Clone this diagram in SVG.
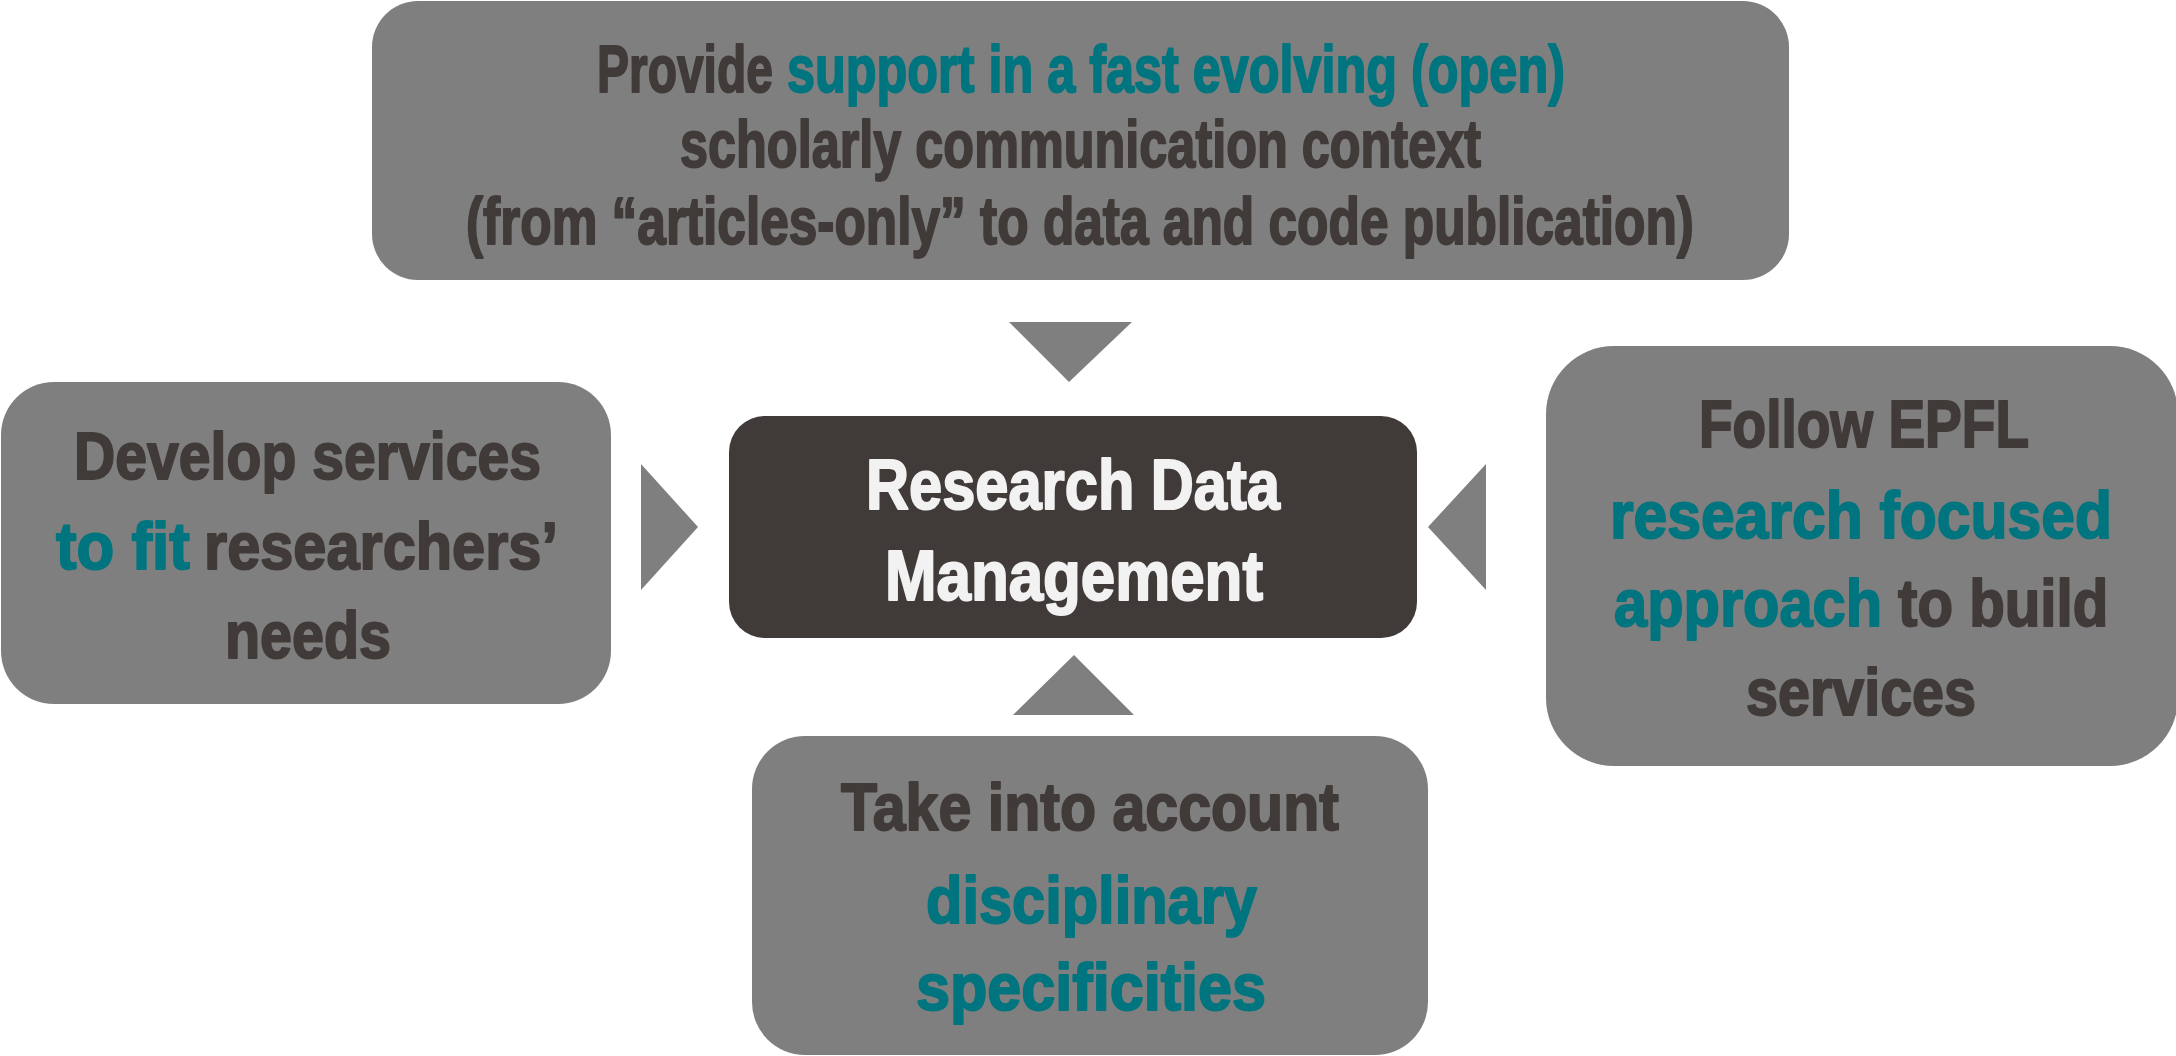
<svg xmlns="http://www.w3.org/2000/svg" width="2176" height="1056" viewBox="0 0 2176 1056">
<style>
.box{fill:#7f7f7f}
.core{fill:#403b39}
.arr{fill:#7f7f7f}
.t{font-family:"Liberation Sans",Arial,sans-serif;font-weight:bold;font-size:67px;fill:#403b39;stroke:#403b39;stroke-width:2px;stroke-linejoin:round}
.c{fill:#00757f;stroke:#00757f}
.w{fill:#f2f2f2;stroke:#f2f2f2;font-size:70px}
</style>
<rect width="2176" height="1056" fill="#ffffff"/>
<g id="connectors">
<polygon class="arr" points="1009,322 1132,322 1069,382"/>
<polygon class="arr" points="641,464 641,590 698,527"/>
<polygon class="arr" points="1486,464 1486,590 1428,527"/>
<polygon class="arr" points="1013,715 1134,715 1074,655"/>
</g>
<g id="node-top">
<rect class="box" x="372" y="1" width="1417" height="279" rx="46"/>
<text class="t" transform="translate(597,92) scale(0.715,1)" x="0" y="0" textLength="246" lengthAdjust="spacingAndGlyphs">Provide</text>
<text class="t c" transform="translate(787,92) scale(0.715,1)" x="0" y="0" textLength="1088" lengthAdjust="spacingAndGlyphs">support in a fast evolving (open)</text>
<text class="t" x="680" y="167" textLength="801" lengthAdjust="spacingAndGlyphs">scholarly communication context</text>
<text class="t" x="466" y="244" textLength="1228" lengthAdjust="spacingAndGlyphs">(from “articles-only” to data and code publication)</text>
</g>
<g id="node-left">
<rect class="box" x="1" y="382" width="610" height="322" rx="53"/>
<text class="t" x="74" y="479" textLength="467" lengthAdjust="spacingAndGlyphs">Develop services</text>
<text class="t c" transform="translate(56,569) scale(0.715,1)" x="0" y="0" textLength="187" lengthAdjust="spacingAndGlyphs">to fit</text>
<text class="t" transform="translate(204,569) scale(0.715,1)" x="0" y="0" textLength="495" lengthAdjust="spacingAndGlyphs">researchers’</text>
<text class="t" x="225" y="658" textLength="166" lengthAdjust="spacingAndGlyphs">needs</text>
</g>
<g id="node-center">
<rect class="core" x="729" y="416" width="688" height="222" rx="36"/>
<text class="t w" x="866" y="509" textLength="414" lengthAdjust="spacingAndGlyphs">Research Data</text>
<text class="t w" x="885" y="600" textLength="378" lengthAdjust="spacingAndGlyphs">Management</text>
</g>
<g id="node-right">
<rect class="box" x="1546" y="346" width="632" height="420" rx="68"/>
<text class="t" x="1699" y="447" textLength="330" lengthAdjust="spacingAndGlyphs">Follow EPFL</text>
<text class="t c" x="1610" y="538" textLength="502" lengthAdjust="spacingAndGlyphs">research  focused</text>
<text class="t c" transform="translate(1614,626) scale(0.715,1)" x="0" y="0" textLength="375" lengthAdjust="spacingAndGlyphs">approach</text>
<text class="t" transform="translate(1898,626) scale(0.715,1)" x="0" y="0" textLength="294" lengthAdjust="spacingAndGlyphs">to build</text>
<text class="t" x="1746" y="715" textLength="230" lengthAdjust="spacingAndGlyphs">services</text>
</g>
<g id="node-bottom">
<rect class="box" x="752" y="736" width="676" height="319" rx="53"/>
<text class="t" x="841" y="830" textLength="498" lengthAdjust="spacingAndGlyphs">Take into account</text>
<text class="t c" x="926" y="923" textLength="331" lengthAdjust="spacingAndGlyphs">disciplinary</text>
<text class="t c" x="916" y="1010" textLength="350" lengthAdjust="spacingAndGlyphs">specificities</text>
</g>
</svg>
